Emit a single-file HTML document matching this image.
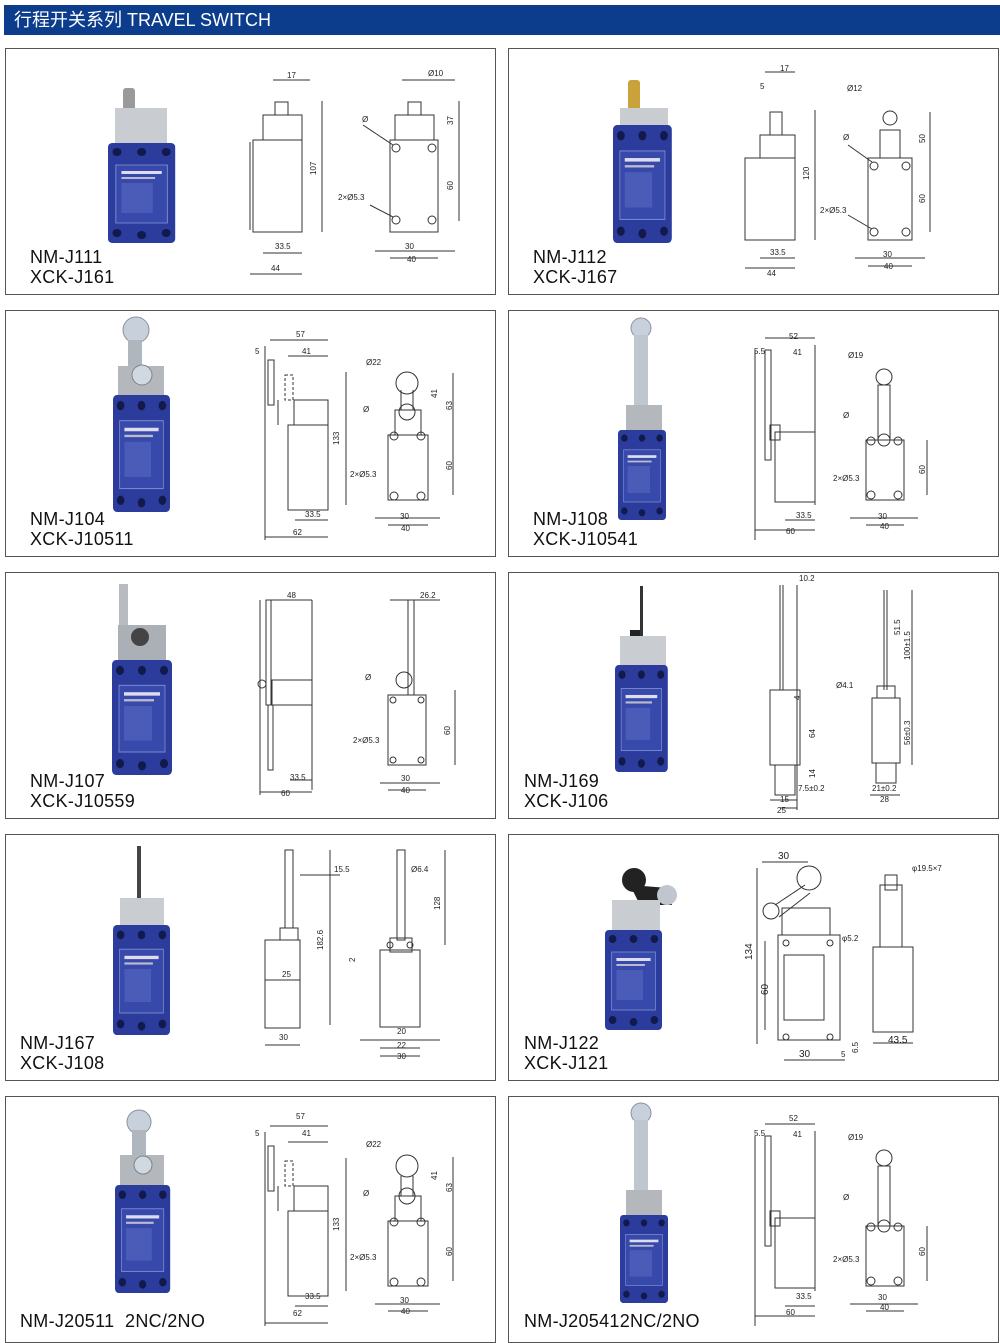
<!DOCTYPE html>
<html><head><meta charset="utf-8"><style>
body{margin:0;background:#fff;width:1000px;height:1343px;position:relative;overflow:hidden;font-family:"Liberation Sans","Noto Sans CJK SC",sans-serif}
.hdr{position:absolute;left:4px;top:5px;width:996px;height:30px;background:#0c3d8c;color:#fff;font-size:18px;line-height:31px;padding-left:10px;box-sizing:border-box}
.pn{position:absolute;border:1.5px solid #555;box-sizing:border-box;width:491px;height:247px}
.lb{position:absolute;font-size:18px;line-height:20px;color:#111;letter-spacing:0.3px}
svg{position:absolute;left:0;top:0}
svg text{font-family:"Liberation Sans",sans-serif;font-size:8px;fill:#222}
</style></head><body>
<div class="hdr">行程开关系列 TRAVEL SWITCH</div>
<div class="pn" style="left:5px;top:48px"></div><div class="pn" style="left:508px;top:48px"></div>
<div class="pn" style="left:5px;top:310px"></div><div class="pn" style="left:508px;top:310px"></div>
<div class="pn" style="left:5px;top:572px"></div><div class="pn" style="left:508px;top:572px"></div>
<div class="pn" style="left:5px;top:834px"></div><div class="pn" style="left:508px;top:834px"></div>
<div class="pn" style="left:5px;top:1096px"></div><div class="pn" style="left:508px;top:1096px"></div>

<div class="lb" style="left:30px;top:247px">NM-J111<br>XCK-J161</div>
<div class="lb" style="left:533px;top:247px">NM-J112<br>XCK-J167</div>
<div class="lb" style="left:30px;top:509px">NM-J104<br>XCK-J10511</div>
<div class="lb" style="left:533px;top:509px">NM-J108<br>XCK-J10541</div>
<div class="lb" style="left:30px;top:771px">NM-J107<br>XCK-J10559</div>
<div class="lb" style="left:524px;top:771px">NM-J169<br>XCK-J106</div>
<div class="lb" style="left:20px;top:1033px">NM-J167<br>XCK-J108</div>
<div class="lb" style="left:524px;top:1033px">NM-J122<br>XCK-J121</div>
<div class="lb" style="left:20px;top:1311px">NM-J20511&nbsp;&nbsp;2NC/2NO</div>
<div class="lb" style="left:524px;top:1311px">NM-J205412NC/2NO</div>

<svg width="1000" height="1343">
<defs>
<g id="blue">
<rect x="0" y="0" width="60" height="100" rx="4" fill="#2c3c9c"/>
<rect x="7" y="22" width="46" height="58" fill="#3749ab" stroke="#8090d0" stroke-width="0.8"/>
<circle cx="8" cy="9" r="4" fill="#111a4a"/><circle cx="30" cy="9" r="4" fill="#111a4a"/><circle cx="52" cy="9" r="4" fill="#111a4a"/>
<circle cx="8" cy="90" r="4" fill="#111a4a"/><circle cx="30" cy="92" r="4" fill="#111a4a"/><circle cx="52" cy="90" r="4" fill="#111a4a"/>
<rect x="12" y="28" width="36" height="3" fill="#dde"/><rect x="12" y="34" width="30" height="2" fill="#bbc"/>
<rect x="12" y="40" width="28" height="30" fill="#4a5cb8"/>
</g>
<g id="dimstyle"></g>
</defs>

<!-- ===== products ===== -->
<!-- P1 -->
<rect x="123" y="88" width="12" height="22" rx="3" fill="#9a9a9a"/>
<rect x="115" y="108" width="52" height="38" fill="#c9ccd0"/>
<use href="#blue" transform="translate(108,143) scale(1.12,1.0)"/>
<!-- P2 -->
<rect x="628" y="80" width="12" height="30" rx="3" fill="#c9a23a"/>
<rect x="620" y="108" width="48" height="20" fill="#c9ccd0"/>
<use href="#blue" transform="translate(613,125) scale(0.98,1.18)"/>
<!-- P3 -->
<circle cx="136" cy="330" r="13" fill="#c8d0dc" stroke="#8892a0"/>
<rect x="128" y="340" width="14" height="40" fill="#b0b6be"/>
<rect x="118" y="366" width="46" height="30" fill="#b4b8bc"/>
<circle cx="142" cy="375" r="10" fill="#d0d8e0" stroke="#7a8390"/>
<use href="#blue" transform="translate(113,395) scale(0.95,1.17)"/>
<!-- P4 -->
<circle cx="641" cy="328" r="10" fill="#c8d0dc" stroke="#8892a0"/>
<rect x="634" y="335" width="14" height="80" fill="#c0c6ce"/>
<rect x="626" y="405" width="36" height="25" fill="#b4b8bc"/>
<use href="#blue" transform="translate(618,430) scale(0.8,0.9)"/>
<!-- P5 -->
<rect x="119" y="584" width="9" height="190" fill="#b8bcc0"/>
<rect x="118" y="625" width="48" height="36" fill="#aab0b6"/>
<circle cx="140" cy="637" r="9" fill="#444"/>
<use href="#blue" transform="translate(112,660) scale(1.0,1.15)"/>
<!-- P6 -->
<rect x="640" y="586" width="3" height="50" fill="#333"/>
<rect x="630" y="630" width="10" height="8" fill="#222"/>
<rect x="620" y="636" width="46" height="30" fill="#c9ccd0"/>
<use href="#blue" transform="translate(615,665) scale(0.88,1.07)"/>
<!-- P7 -->
<rect x="137" y="846" width="4" height="55" fill="#444"/>
<rect x="120" y="898" width="44" height="28" fill="#c9ccd0"/>
<use href="#blue" transform="translate(113,925) scale(0.95,1.1)"/>
<!-- P8 -->
<circle cx="634" cy="880" r="12" fill="#222"/>
<path d="M630 885 L668 888 L672 905 L640 905 Z" fill="#222"/>
<circle cx="667" cy="895" r="10" fill="#c0c6ce"/>
<rect x="612" y="900" width="48" height="40" fill="#c9ccd0"/>
<use href="#blue" transform="translate(605,930) scale(0.95,1.0)"/>
<!-- P9 -->
<circle cx="139" cy="1122" r="12" fill="#c8d0dc" stroke="#8892a0"/>
<rect x="132" y="1130" width="14" height="40" fill="#b0b6be"/>
<rect x="120" y="1155" width="44" height="30" fill="#b4b8bc"/>
<circle cx="143" cy="1165" r="9" fill="#d0d8e0" stroke="#7a8390"/>
<use href="#blue" transform="translate(115,1185) scale(0.92,1.08)"/>
<!-- P10 -->
<circle cx="641" cy="1113" r="10" fill="#c8d0dc" stroke="#8892a0"/>
<rect x="634" y="1120" width="14" height="80" fill="#c0c6ce"/>
<rect x="626" y="1190" width="36" height="25" fill="#b4b8bc"/>
<use href="#blue" transform="translate(620,1215) scale(0.8,0.88)"/>

<!-- ===== drawings ===== -->
<g fill="none" stroke="#333" stroke-width="1">
<!-- P1 side -->
<rect x="253" y="140" width="49" height="92"/><rect x="263" y="115" width="39" height="25"/><rect x="275" y="102" width="13" height="13"/>
<line x1="250" y1="142" x2="250" y2="230"/>
<line x1="322" y1="101" x2="322" y2="232"/><line x1="250" y1="274" x2="302" y2="274"/><line x1="263" y1="253" x2="302" y2="253"/><line x1="273" y1="80" x2="310" y2="80"/>
<!-- P1 front -->
<rect x="390" y="140" width="48" height="92"/><rect x="395" y="115" width="39" height="25"/><rect x="408" y="102" width="13" height="13"/>
<circle cx="396" cy="148" r="4"/><circle cx="432" cy="148" r="4"/><circle cx="396" cy="220" r="4"/><circle cx="432" cy="220" r="4"/>
<line x1="459" y1="101" x2="459" y2="221"/><line x1="390" y1="258" x2="438" y2="258"/><line x1="375" y1="251" x2="455" y2="251"/><line x1="402" y1="80" x2="455" y2="80"/>
<line x1="363" y1="125" x2="393" y2="145"/><line x1="370" y1="205" x2="393" y2="217"/>
<!-- P2 side -->
<rect x="745" y="158" width="50" height="82"/><rect x="760" y="135" width="35" height="23"/><rect x="770" y="112" width="12" height="23"/>
<line x1="815" y1="110" x2="815" y2="240"/><line x1="745" y1="268" x2="795" y2="268"/><line x1="760" y1="258" x2="795" y2="258"/><line x1="765" y1="72" x2="795" y2="72"/>
<!-- P2 front -->
<rect x="868" y="158" width="44" height="82"/><rect x="880" y="130" width="20" height="28"/><circle cx="890" cy="118" r="7"/>
<circle cx="874" cy="166" r="4"/><circle cx="906" cy="166" r="4"/><circle cx="874" cy="232" r="4"/><circle cx="906" cy="232" r="4"/>
<line x1="930" y1="112" x2="930" y2="232"/><line x1="868" y1="266" x2="912" y2="266"/><line x1="855" y1="258" x2="925" y2="258"/>
<line x1="848" y1="145" x2="872" y2="162"/><line x1="848" y1="215" x2="872" y2="229"/>
<!-- P3 side -->
<rect x="288" y="425" width="40" height="85"/><rect x="294" y="400" width="34" height="25"/><rect x="268" y="360" width="6" height="45"/><rect x="285" y="375" width="8" height="25" stroke-dasharray="3,2"/><line x1="278" y1="400" x2="278" y2="425"/>
<line x1="265" y1="346" x2="265" y2="540"/><line x1="346" y1="372" x2="346" y2="505"/><line x1="265" y1="537" x2="328" y2="537"/><line x1="295" y1="520" x2="328" y2="520"/><line x1="270" y1="340" x2="328" y2="340"/><line x1="288" y1="356" x2="328" y2="356"/>
<!-- P3 front -->
<rect x="388" y="435" width="40" height="65"/><rect x="395" y="410" width="26" height="25"/><circle cx="407" cy="383" r="11"/><circle cx="407" cy="412" r="8"/><line x1="401" y1="390" x2="401" y2="410"/><line x1="413" y1="390" x2="413" y2="410"/>
<circle cx="394" cy="436" r="4"/><circle cx="421" cy="436" r="4"/><circle cx="394" cy="496" r="4"/><circle cx="421" cy="496" r="4"/>
<line x1="453" y1="373" x2="453" y2="495"/><line x1="388" y1="525" x2="428" y2="525"/><line x1="375" y1="518" x2="440" y2="518"/>
<!-- P4 side -->
<rect x="775" y="432" width="40" height="70"/><rect x="765" y="350" width="6" height="110" /><rect x="770" y="425" width="10" height="15"/>
<line x1="755" y1="350" x2="755" y2="540"/><line x1="815" y1="345" x2="815" y2="505"/><line x1="755" y1="530" x2="815" y2="530"/><line x1="785" y1="520" x2="815" y2="520"/><line x1="765" y1="338" x2="815" y2="338"/>
<!-- P4 front -->
<rect x="866" y="440" width="38" height="60"/><circle cx="884" cy="377" r="8"/><rect x="878" y="385" width="12" height="55"/><circle cx="884" cy="440" r="6"/>
<circle cx="871" cy="441" r="4"/><circle cx="898" cy="441" r="4"/><circle cx="871" cy="495" r="4"/><circle cx="898" cy="495" r="4"/>
<line x1="927" y1="440" x2="927" y2="495"/><line x1="866" y1="525" x2="904" y2="525"/><line x1="850" y1="518" x2="918" y2="518"/>
<!-- P5 side -->
<rect x="268" y="705" width="5" height="65"/><rect x="266" y="600" width="5" height="105"/><rect x="272" y="680" width="40" height="25"/><line x1="272" y1="705" x2="312" y2="705"/><circle cx="262" cy="684" r="4"/>
<line x1="260" y1="600" x2="260" y2="795"/><line x1="312" y1="600" x2="312" y2="790"/><line x1="260" y1="792" x2="312" y2="792"/><line x1="290" y1="780" x2="312" y2="780"/><line x1="270" y1="600" x2="312" y2="600"/>
<!-- P5 front -->
<rect x="388" y="695" width="38" height="70"/><rect x="408" y="600" width="6" height="95"/><circle cx="404" cy="680" r="8"/>
<circle cx="393" cy="700" r="3"/><circle cx="421" cy="700" r="3"/><circle cx="393" cy="760" r="3"/><circle cx="421" cy="760" r="3"/>
<line x1="455" y1="690" x2="455" y2="765"/><line x1="388" y1="790" x2="426" y2="790"/><line x1="380" y1="783" x2="440" y2="783"/><line x1="390" y1="600" x2="440" y2="600"/>
<!-- P6 side -->
<rect x="770" y="690" width="30" height="75"/><line x1="780" y1="585" x2="780" y2="690"/><line x1="783" y1="585" x2="783" y2="690"/><rect x="775" y="765" width="20" height="30"/>
<line x1="797" y1="585" x2="797" y2="810"/><line x1="780" y1="808" x2="797" y2="808"/><line x1="770" y1="800" x2="797" y2="800"/>
<!-- P6 front -->
<rect x="872" y="698" width="28" height="65"/><line x1="884" y1="590" x2="884" y2="690"/><line x1="887" y1="590" x2="887" y2="690"/><rect x="877" y="686" width="18" height="12"/><rect x="876" y="763" width="20" height="20"/>
<line x1="912" y1="590" x2="912" y2="765"/><line x1="870" y1="795" x2="900" y2="795"/>
<!-- P7 side -->
<rect x="265" y="940" width="35" height="88"/><rect x="285" y="850" width="8" height="78"/><rect x="280" y="928" width="18" height="12"/>
<line x1="265" y1="1045" x2="300" y2="1045"/><line x1="265" y1="980" x2="300" y2="980"/><line x1="330" y1="850" x2="330" y2="1025"/><line x1="300" y1="875" x2="340" y2="875"/>
<!-- P7 front -->
<rect x="380" y="950" width="40" height="77"/><rect x="397" y="850" width="8" height="90"/><rect x="390" y="938" width="22" height="14"/>
<circle cx="390" cy="945" r="3"/><circle cx="410" cy="945" r="3"/>
<line x1="445" y1="850" x2="445" y2="945"/><line x1="380" y1="1048" x2="420" y2="1048"/><line x1="360" y1="1040" x2="440" y2="1040"/><line x1="380" y1="1056" x2="420" y2="1056"/>
<!-- P8 front -->
<rect x="778" y="935" width="62" height="105"/><rect x="784" y="955" width="40" height="65"/><rect x="782" y="908" width="48" height="27"/><circle cx="809" cy="878" r="12"/><circle cx="771" cy="911" r="8"/><line x1="775" y1="905" x2="805" y2="885"/><line x1="779" y1="917" x2="810" y2="893"/><circle cx="786" cy="943" r="3"/><circle cx="830" cy="943" r="3"/><circle cx="786" cy="1037" r="3"/><circle cx="830" cy="1037" r="3"/>
<line x1="757" y1="868" x2="757" y2="1044"/><line x1="765" y1="941" x2="765" y2="1030"/><line x1="784" y1="1060" x2="845" y2="1060"/><line x1="762" y1="862" x2="808" y2="862"/>
<!-- P8 side -->
<rect x="873" y="947" width="40" height="85"/><rect x="880" y="885" width="22" height="62"/><rect x="885" y="875" width="12" height="15"/>
<line x1="873" y1="1043" x2="913" y2="1043"/>
<!-- P9 side (same as P3 +786) -->
<rect x="288" y="1211" width="40" height="85"/><rect x="294" y="1186" width="34" height="25"/><rect x="268" y="1146" width="6" height="45"/><rect x="285" y="1161" width="8" height="25" stroke-dasharray="3,2"/><line x1="278" y1="1186" x2="278" y2="1211"/>
<line x1="265" y1="1132" x2="265" y2="1326"/><line x1="346" y1="1158" x2="346" y2="1291"/><line x1="265" y1="1323" x2="328" y2="1323"/><line x1="295" y1="1306" x2="328" y2="1306"/><line x1="270" y1="1126" x2="328" y2="1126"/><line x1="288" y1="1142" x2="328" y2="1142"/>
<!-- P9 front -->
<rect x="388" y="1221" width="40" height="65"/><rect x="395" y="1196" width="26" height="25"/><circle cx="407" cy="1166" r="11"/><circle cx="407" cy="1196" r="8"/><line x1="401" y1="1176" x2="401" y2="1196"/><line x1="413" y1="1176" x2="413" y2="1196"/>
<circle cx="394" cy="1222" r="4"/><circle cx="421" cy="1222" r="4"/><circle cx="394" cy="1282" r="4"/><circle cx="421" cy="1282" r="4"/>
<line x1="453" y1="1157" x2="453" y2="1281"/><line x1="388" y1="1311" x2="428" y2="1311"/><line x1="375" y1="1304" x2="440" y2="1304"/>
<!-- P10 side -->
<rect x="775" y="1218" width="40" height="70"/><rect x="765" y="1136" width="6" height="110"/><rect x="770" y="1211" width="10" height="15"/>
<line x1="755" y1="1136" x2="755" y2="1326"/><line x1="815" y1="1131" x2="815" y2="1291"/><line x1="755" y1="1316" x2="815" y2="1316"/><line x1="785" y1="1306" x2="815" y2="1306"/><line x1="765" y1="1124" x2="815" y2="1124"/>
<!-- P10 front -->
<rect x="866" y="1226" width="38" height="60"/><circle cx="884" cy="1158" r="8"/><rect x="878" y="1166" width="12" height="60"/><circle cx="884" cy="1226" r="6"/>
<circle cx="871" cy="1227" r="4"/><circle cx="898" cy="1227" r="4"/><circle cx="871" cy="1281" r="4"/><circle cx="898" cy="1281" r="4"/>
<line x1="927" y1="1226" x2="927" y2="1281"/><line x1="866" y1="1311" x2="904" y2="1311"/><line x1="850" y1="1304" x2="918" y2="1304"/>
</g>

<!-- dimension texts -->
<text x="287" y="78">17</text><text x="428" y="76">Ø10</text><text x="316" y="175" transform="rotate(-90 316 175)">107</text><text x="453" y="125" transform="rotate(-90 453 125)">37</text><text x="453" y="190" transform="rotate(-90 453 190)">60</text><text x="338" y="200">2×Ø5.3</text><text x="362" y="122">Ø</text><text x="275" y="249">33.5</text><text x="271" y="271">44</text><text x="405" y="249">30</text><text x="407" y="262">40</text>
<text x="780" y="71">17</text><text x="760" y="89">5</text><text x="847" y="91">Ø12</text><text x="809" y="180" transform="rotate(-90 809 180)">120</text><text x="925" y="143" transform="rotate(-90 925 143)">50</text><text x="925" y="203" transform="rotate(-90 925 203)">60</text><text x="820" y="213">2×Ø5.3</text><text x="843" y="140">Ø</text><text x="770" y="255">33.5</text><text x="767" y="276">44</text><text x="883" y="257">30</text><text x="884" y="269">40</text>
<text x="296" y="337">57</text><text x="302" y="354">41</text><text x="255" y="354">5</text><text x="366" y="365">Ø22</text><text x="339" y="445" transform="rotate(-90 339 445)">133</text><text x="437" y="398" transform="rotate(-90 437 398)">41</text><text x="452" y="410" transform="rotate(-90 452 410)">63</text><text x="452" y="470" transform="rotate(-90 452 470)">60</text><text x="350" y="477">2×Ø5.3</text><text x="363" y="412">Ø</text><text x="305" y="517">33.5</text><text x="293" y="535">62</text><text x="400" y="519">30</text><text x="401" y="531">40</text>
<text x="789" y="339">52</text><text x="754" y="354">5.5</text><text x="793" y="355">41</text><text x="848" y="358">Ø19</text><text x="843" y="418">Ø</text><text x="833" y="481">2×Ø5.3</text><text x="925" y="474" transform="rotate(-90 925 474)">60</text><text x="796" y="518">33.5</text><text x="786" y="534">60</text><text x="878" y="519">30</text><text x="880" y="529">40</text>
<text x="287" y="598">48</text><text x="420" y="598">26.2</text><text x="365" y="680">Ø</text><text x="353" y="743">2×Ø5.3</text><text x="450" y="735" transform="rotate(-90 450 735)">60</text><text x="290" y="780">33.5</text><text x="281" y="796">60</text><text x="401" y="781">30</text><text x="401" y="793">40</text>
<text x="799" y="581">10.2</text><text x="836" y="688">Ø4.1</text><text x="800" y="700" transform="rotate(-90 800 700)">4</text><text x="815" y="738" transform="rotate(-90 815 738)">64</text><text x="815" y="778" transform="rotate(-90 815 778)">14</text><text x="798" y="791">7.5±0.2</text><text x="780" y="802">15</text><text x="777" y="813">25</text><text x="900" y="635" transform="rotate(-90 900 635)">51.5</text><text x="910" y="660" transform="rotate(-90 910 660)">100±1.5</text><text x="910" y="745" transform="rotate(-90 910 745)">56±0.3</text><text x="872" y="791">21±0.2</text><text x="880" y="802">28</text>
<text x="334" y="872">15.5</text><text x="411" y="872">Ø6.4</text><text x="323" y="950" transform="rotate(-90 323 950)">182.6</text><text x="440" y="910" transform="rotate(-90 440 910)">128</text><text x="355" y="962" transform="rotate(-90 355 962)">2</text><text x="282" y="977">25</text><text x="279" y="1040">30</text><text x="397" y="1034">20</text><text x="397" y="1048">22</text><text x="397" y="1059">30</text>
<text x="778" y="859" style="font-size:10px">30</text><text x="912" y="871">φ19.5×7</text><text x="842" y="941">φ5.2</text><text x="752" y="960" transform="rotate(-90 752 960)" style="font-size:10px">134</text><text x="768" y="995" transform="rotate(-90 768 995)" style="font-size:10px">60</text><text x="799" y="1057" style="font-size:10px">30</text><text x="841" y="1057">5</text><text x="858" y="1053" transform="rotate(-90 858 1053)">6.5</text><text x="888" y="1043" style="font-size:10px">43.5</text>
<text x="296" y="1119">57</text><text x="302" y="1136">41</text><text x="255" y="1136">5</text><text x="366" y="1147">Ø22</text><text x="339" y="1231" transform="rotate(-90 339 1231)">133</text><text x="437" y="1180" transform="rotate(-90 437 1180)">41</text><text x="452" y="1192" transform="rotate(-90 452 1192)">63</text><text x="452" y="1256" transform="rotate(-90 452 1256)">60</text><text x="350" y="1260">2×Ø5.3</text><text x="363" y="1196">Ø</text><text x="305" y="1299">33.5</text><text x="293" y="1316">62</text><text x="400" y="1303">30</text><text x="401" y="1314">40</text>
<text x="789" y="1121">52</text><text x="754" y="1136">5.5</text><text x="793" y="1137">41</text><text x="848" y="1140">Ø19</text><text x="843" y="1200">Ø</text><text x="833" y="1262">2×Ø5.3</text><text x="925" y="1256" transform="rotate(-90 925 1256)">60</text><text x="796" y="1299">33.5</text><text x="786" y="1315">60</text><text x="878" y="1300">30</text><text x="880" y="1310">40</text>
</svg>
</body></html>
